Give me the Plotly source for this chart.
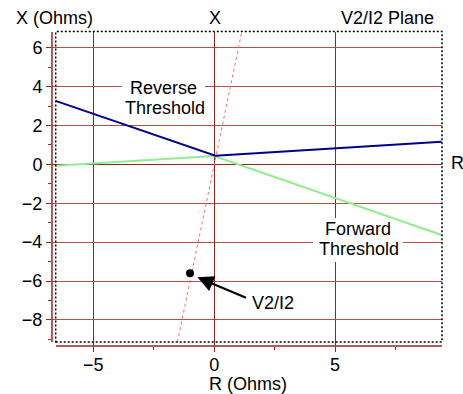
import plotly.graph_objects as go

# ---- data ----
reverse_x = [-6.56, 0.05, 9.41]
reverse_y = [3.27, 0.45, 1.17]

forward_x = [-6.56, 0.0, 9.41]
forward_y = [-0.07, 0.43, -3.63]

angle_x = [-1.52, 1.14]
angle_y = [-9.13, 6.81]

point_x = [-1.0]
point_y = [-5.6]

x_range = [-6.71, 9.425]
y_range = [-9.34, 6.81]

x_ticks = [-5, 0, 5]
y_ticks = [-8, -6, -4, -2, 0, 2, 4, 6]

FONT = "Arial, Liberation Sans, sans-serif"
FS = 18
HGRID = "#c04a4a"
VGRID = "#9b2020"
AXIS = "#a02020"

fig = go.Figure()
fig.add_trace(go.Scatter(x=angle_x, y=angle_y, mode="lines",
                         line=dict(color="#ff6a6a", width=1, dash="dot"), hoverinfo="skip"))
fig.add_trace(go.Scatter(x=forward_x, y=forward_y, mode="lines",
                         line=dict(color="#90ee90", width=2), hoverinfo="skip"))
fig.add_trace(go.Scatter(x=reverse_x, y=reverse_y, mode="lines",
                         line=dict(color="#00008b", width=2), hoverinfo="skip"))
fig.add_trace(go.Scatter(x=point_x, y=point_y, mode="markers",
                         marker=dict(color="black", size=8), hoverinfo="skip"))

# plot area pixel geometry
L, R, T, B = 52, 442, 32, 346
W, H = 463, 394
pw, ph = R - L, B - T


def px(xp):
    return (xp - L) / pw


def py(yp):
    return (B - yp) / ph


shapes = [
    # white label backgrounds (above grid, below traces)
    dict(type="rect", xref="x", yref="y", x0=-3.81, x1=-0.38, y0=2.39, y1=4.44,
         fillcolor="white", line=dict(width=0), layer="between"),
    dict(type="rect", xref="x", yref="y", x0=4.09, x1=7.8, y0=-5.02, y1=-2.76,
         fillcolor="white", line=dict(width=0), layer="between"),
    # dotted frame
    dict(type="rect", xref="paper", yref="paper", x0=px(55.7), x1=px(442), y0=py(342), y1=py(31.5),
         line=dict(color="black", width=1.5, dash="2px,2px"), layer="above"),
    # offset axis lines
    dict(type="line", xref="paper", yref="paper", x0=px(52), x1=px(52), y0=py(342), y1=py(32),
         line=dict(color=AXIS, width=1.5), layer="above"),
    dict(type="line", xref="paper", yref="paper", x0=px(56), x1=px(442), y0=py(346), y1=py(346),
         line=dict(color=AXIS, width=1.5), layer="above"),
]


def txt(text, x, y, xref="x", yref="y", xanchor="center", yanchor="middle"):
    return dict(text=text, x=x, y=y, xref=xref, yref=yref, showarrow=False,
                xanchor=xanchor, yanchor=yanchor,
                font=dict(size=FS, color="black", family=FONT))


annotations = [
    txt("Reverse", -2.10, 3.95),
    txt("Threshold", -2.05, 2.92),
    txt("Forward", 5.97, -3.33),
    txt("Threshold", 5.99, -4.36),
    txt("V2/I2", px(273), py(303), "paper", "paper"),
    dict(text="", x=-0.69, y=-5.81, xref="x", yref="y", showarrow=True, ax=50, ay=21,
         arrowhead=2, arrowsize=1.6, arrowwidth=2, arrowcolor="black"),
    txt("X (Ohms)", px(14), py(18), "paper", "paper", "left"),
    txt("X", px(215), py(18), "paper", "paper"),
    txt("V2/I2 Plane", px(436), py(18), "paper", "paper", "right"),
    txt("R", px(457), py(163), "paper", "paper"),
    txt("R (Ohms)", px(248), py(396), "paper", "paper", "center", "bottom"),
]

fig.update_layout(
    width=W, height=H,
    margin=dict(l=L, r=W - R, t=T, b=H - B, pad=0),
    paper_bgcolor="white", plot_bgcolor="white",
    showlegend=False,
    font=dict(family=FONT, size=FS, color="black"),
    shapes=shapes, annotations=annotations,
    xaxis=dict(range=x_range, tickvals=x_ticks, showgrid=True, gridcolor=VGRID, gridwidth=1,
               zeroline=True, zerolinecolor=VGRID, zerolinewidth=1, showline=False,
               ticks="outside", ticklen=5, tickcolor=AXIS, tickwidth=1, ticklabelstandoff=-3,
               minor=dict(dtick=2.5, tick0=0, ticks="outside", ticklen=3, tickcolor=AXIS, showgrid=False),
               tickfont=dict(size=FS, color="black", family=FONT), fixedrange=True),
    yaxis=dict(range=y_range, tickvals=y_ticks, showgrid=True, gridcolor=HGRID, gridwidth=1,
               zeroline=True, zerolinecolor=VGRID, zerolinewidth=1, showline=False,
               ticks="outside", ticklen=5, tickcolor=AXIS, tickwidth=1,
               minor=dict(dtick=1, tick0=0, ticks="outside", ticklen=3, tickcolor=AXIS, showgrid=False),
               tickfont=dict(size=FS, color="black", family=FONT), fixedrange=True),
)

fig.write_html("out.html", config={"displayModeBar": False})
